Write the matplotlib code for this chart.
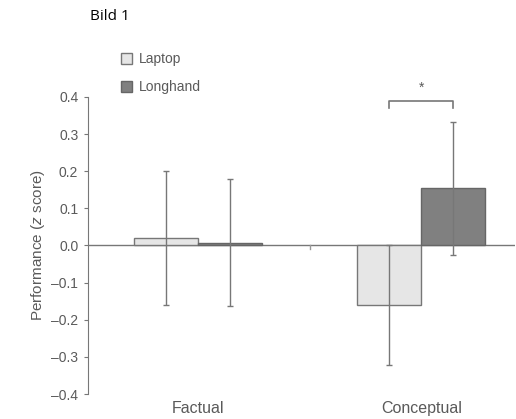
import numpy as np
import matplotlib
matplotlib.use('Agg')
from matplotlib import pyplot as plt
from matplotlib.patches import Patch

categories = ['Factual', 'Conceptual']
laptop = [0.02, -0.16]
longhand = [0.008, 0.154]
laptop_err = [0.18, 0.162]
longhand_err = [0.17, 0.18]
yticks = [0.4, 0.3, 0.2, 0.1, 0.0, -0.1, -0.2, -0.3, -0.4]

plt.rcParams['font.family'] = ['Liberation Sans', 'DejaVu Sans']
plt.rcParams['mathtext.fontset'] = 'custom'
plt.rcParams['mathtext.it'] = 'Liberation Sans:italic'
TXT = '#5a5a5a'

fig = plt.figure(figsize=(5.16, 4.19), dpi=100)
ax = fig.add_axes([88 / 516, 25 / 419, 427 / 516, 297 / 419])

x = np.arange(len(categories))
w = 0.287
ax.bar(x - w / 2, laptop, w, color='#e6e6e6', edgecolor='#777777', linewidth=1, zorder=2)
ax.bar(x + w / 2, longhand, w, color='#808080', edgecolor='#666666', linewidth=1, zorder=2)
ax.errorbar(x - w / 2, laptop, yerr=laptop_err, fmt='none', ecolor='#777777',
            elinewidth=1, capsize=2, capthick=1, zorder=3)
ax.errorbar(x + w / 2, longhand, yerr=longhand_err, fmt='none', ecolor='#777777',
            elinewidth=1, capsize=2, capthick=1, zorder=3)
ax.axhline(0, color='#777777', lw=1, zorder=1)
# small tick between the groups
ax.plot([0.5, 0.5], [0, -0.01], color='#999999', lw=1)

ax.set_xlim(-0.493, 1.42)
ax.set_ylim(-0.4, 0.4)
for s in ['top', 'right', 'bottom']:
    ax.spines[s].set_visible(False)
ax.spines['left'].set_color('#777777')
ax.set_yticks(yticks)
ax.set_yticklabels([f'{v:.1f}'.replace('-', '\u2013') for v in yticks], color=TXT, fontsize=10)
ax.tick_params(axis='y', length=3, color='#777777', pad=4)
ax.set_xticks([])
ax.set_ylabel('Performance ($z$ score)', color=TXT, fontsize=11, labelpad=3)

for xi, name in zip(x, categories):
    ax.text(xi, -0.44, name, ha='center', va='center', color=TXT, fontsize=11.5, clip_on=False)

# significance bracket over conceptual
xl, xr = 1 - w / 2, 1 + w / 2
ax.plot([xl, xl, xr, xr], [0.37, 0.39, 0.39, 0.37], color='#777777', lw=1.2, clip_on=False)
ax.text(1, 0.405, '*', ha='center', va='bottom', color=TXT, fontsize=10, clip_on=False)

handles = [Patch(facecolor='#e6e6e6', edgecolor='#777777', label='Laptop'),
           Patch(facecolor='#808080', edgecolor='#666666', label='Longhand')]
fig.legend(handles=handles, loc='upper left', bbox_to_anchor=(108 / 516, 1 - 40 / 419),
           frameon=False, handlelength=0.8, handleheight=0.8, handletextpad=0.5,
           labelspacing=1.0, fontsize=10, labelcolor=TXT)

fig.text(90 / 516, 1 - 17 / 419, 'Bild 1', ha='left', va='center', fontsize=11,
         family=['Open Sans', 'DejaVu Sans'], color='black')

fig.savefig('out.png', dpi=100)
